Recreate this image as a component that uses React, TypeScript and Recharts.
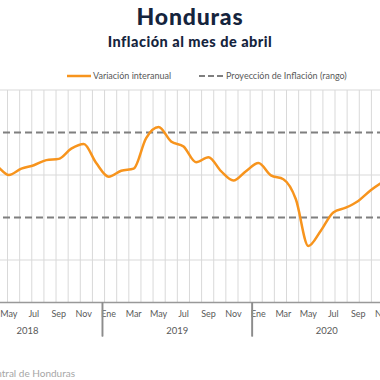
import React from 'react';
import { LineChart, Line, XAxis, YAxis, CartesianGrid, ReferenceLine } from 'recharts';

const months = ['Ene', 'Feb', 'Mar', 'Abr', 'May', 'Jun', 'Jul', 'Ago', 'Sep', 'Oct', 'Nov', 'Dic'];
const years = ['2018', '2019', '2020'];
const inflation = [
  4.6, 4.5, 4.36, 4.22, 4.0, 4.15, 4.23, 4.35, 4.38, 4.62, 4.73, 4.28,
  3.96, 4.1, 4.15, 4.87, 5.13, 4.79, 4.67, 4.3, 4.42, 4.09, 3.87, 4.09,
  4.28, 3.99, 3.9, 3.43, 2.33, 2.69, 3.12, 3.23, 3.39, 3.64, 3.84, 4.01,
];
const projUpper = 5;
const projLower = 3;
const yTicks = [2, 4, 6];

const data = inflation.map((v, i) => ({
  label: `${months[i % 12]}-${years[Math.floor(i / 12)]}`,
  month: months[i % 12],
  year: years[Math.floor(i / 12)],
  idx: i,
  v,
}));

const BAND = 12.13;
const PLOT_W = BAND * data.length;
const M_LEFT = 10;
const CHART_W = M_LEFT + PLOT_W + 10;
const CHART_LEFT = -50.6;
const FONT = 'Lato, "DejaVu Sans", sans-serif';

const Tick = (props: any) => {
  const { x, y, payload } = props;
  const i = payload.index;
  const d = data[i];
  if (!d) return null;
  const m = i % 12;
  return (
    <g>
      {m % 2 === 0 && (
        <text x={x} y={y + 15} textAnchor="middle" fontSize={9} fill="#595959" fontFamily={FONT}>
          {d.month}
        </text>
      )}
      {m === 0 && (
        <line x1={x - BAND / 2} x2={x - BAND / 2} y1={y} y2={y + 34} stroke="#8c8c8c" strokeWidth={1.5} />
      )}
      {m === 11 && (
        <line x1={x + BAND / 2} x2={x + BAND / 2} y1={y} y2={y + 34} stroke="#8c8c8c" strokeWidth={1.5} />
      )}
      {m === 5 && (
        <text x={x + BAND / 2} y={y + 32} textAnchor="middle" fontSize={9.5} fill="#595959" fontFamily={FONT}>
          {d.year}
        </text>
      )}
    </g>
  );
};

export default function App() {
  return (
    <div style={{ position: 'fixed', left: 0, top: 0, width: 380, height: 380, overflow: 'hidden', background: '#fff' }}>
      <div style={{ position: 'absolute', left: 0, top: 3, width: 380, textAlign: 'center', fontFamily: FONT, fontWeight: 900, fontSize: 23, letterSpacing: 0.8, color: '#15243d', lineHeight: '27px' }}>
        Honduras
      </div>
      <div style={{ position: 'absolute', left: 0, top: 33, width: 380, textAlign: 'center', fontFamily: FONT, fontWeight: 900, fontSize: 14.5, letterSpacing: 0.5, color: '#15243d', lineHeight: '17px' }}>
        Inflación al mes de abril
      </div>
      <svg style={{ position: 'absolute', left: 0, top: 66 }} width={380} height={20}>
        <line x1={67} x2={91} y1={10} y2={10} stroke="#F7941D" strokeWidth={2.5} />
        <text x={93} y={13} fontSize={9} fill="#595959" fontFamily={FONT}>Variación interanual</text>
        <line x1={199} x2={223} y1={10} y2={10} stroke="#7f7f7f" strokeWidth={2} strokeDasharray="6 3" />
        <text x={226} y={13} fontSize={9} fill="#595959" fontFamily={FONT}>Proyección de Inflación (rango)</text>
      </svg>
      <div style={{ position: 'absolute', left: CHART_LEFT, top: 0 }}>
        <LineChart
          width={CHART_W}
          height={380}
          data={data}
          margin={{ top: 90, right: 10, left: M_LEFT, bottom: 37.5 }}
        >
          <CartesianGrid
            stroke="#d9d9d9"
            strokeWidth={1}
            verticalCoordinatesGenerator={({ offset }: any) =>
              Array.from({ length: data.length + 1 }, (_, i) => offset.left + i * BAND)
            }
          />
          <YAxis hide domain={[1, 6]} ticks={yTicks} type="number" />
          <XAxis
            dataKey="label"
            interval={0}
            tickLine={false}
            tickSize={0}
            tickMargin={0}
            height={40}
            axisLine={{ stroke: '#999', strokeWidth: 1.5 }}
            tick={<Tick />}
          />
          <ReferenceLine y={projUpper} stroke="#7f7f7f" strokeWidth={2} strokeDasharray="7 4" />
          <ReferenceLine y={projLower} stroke="#7f7f7f" strokeWidth={2} strokeDasharray="7 4" />
          <Line type="monotone" dataKey="v" stroke="#F7941D" strokeWidth={2.5} dot={false} isAnimationActive={false} />
        </LineChart>
      </div>
      <svg style={{ position: 'absolute', left: 0, top: 364 }} width={380} height={16}>
        <text x={75} y={13} textAnchor="end" fontSize={10} fill="#a6a6a6" fontFamily={FONT}>
          Fuente: Banco Central de Honduras
        </text>
      </svg>
    </div>
  );
}
